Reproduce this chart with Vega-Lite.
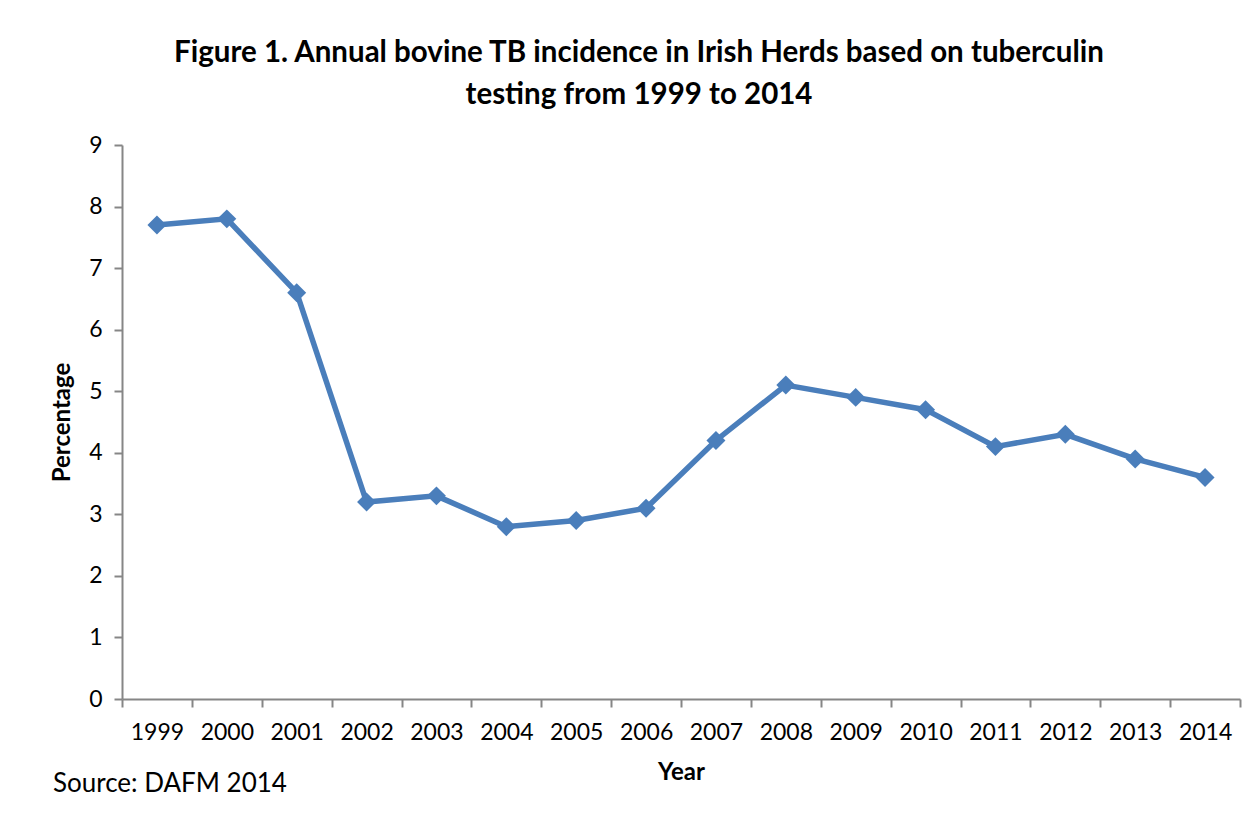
{
  "$schema": "https://vega.github.io/schema/vega-lite/v6.json",
  "width": 1118,
  "height": 554,
  "autosize": {"type": "none"},
  "padding": {"left": 122, "top": 145, "right": 16, "bottom": 115},
  "background": "white",
  "config": {
    "view": {"stroke": null},
    "font": "Lato"
  },
  "title": {
    "text": ["Figure 1. Annual bovine TB incidence in Irish Herds based on tuberculin", "testing from 1999 to 2014"],
    "font": "Lato",
    "fontSize": 29.5,
    "fontWeight": "bold",
    "color": "#000000",
    "lineHeight": 42,
    "anchor": "middle",
    "frame": "group",
    "dx": -42,
    "offset": 24
  },
  "data": {
    "values": [
      {"year": "1999", "pct": 7.7},
      {"year": "2000", "pct": 7.8},
      {"year": "2001", "pct": 6.6},
      {"year": "2002", "pct": 3.2},
      {"year": "2003", "pct": 3.3},
      {"year": "2004", "pct": 2.8},
      {"year": "2005", "pct": 2.9},
      {"year": "2006", "pct": 3.1},
      {"year": "2007", "pct": 4.2},
      {"year": "2008", "pct": 5.1},
      {"year": "2009", "pct": 4.9},
      {"year": "2010", "pct": 4.7},
      {"year": "2011", "pct": 4.1},
      {"year": "2012", "pct": 4.3},
      {"year": "2013", "pct": 3.9},
      {"year": "2014", "pct": 3.6}
    ]
  },
  "encoding": {
    "x": {
      "field": "year",
      "type": "ordinal",
      "scale": {"type": "band", "paddingInner": 0, "paddingOuter": 0},
      "axis": {
        "title": "Year",
        "titleFont": "Lato",
        "titleFontSize": 24,
        "titleFontWeight": "bold",
        "titleColor": "#000000",
        "titlePadding": 16,
        "labelFont": "Lato",
        "labelFontSize": 23,
        "labelColor": "#000000",
        "labelAngle": 0,
        "labelPadding": 14,
        "tickBand": "extent",
        "tickSize": 8,
        "tickColor": "#868686",
        "tickWidth": 2,
        "domainColor": "#868686",
        "domainWidth": 2,
        "grid": false
      }
    },
    "y": {
      "field": "pct",
      "type": "quantitative",
      "scale": {"domain": [0, 9], "nice": false},
      "axis": {
        "title": "Percentage",
        "titleFont": "Lato",
        "titleFontSize": 24,
        "titleFontWeight": "bold",
        "titleColor": "#000000",
        "titlePadding": 14,
        "labelFont": "Lato",
        "labelFontSize": 23,
        "labelColor": "#000000",
        "labelPadding": 12,
        "values": [0, 1, 2, 3, 4, 5, 6, 7, 8, 9],
        "tickSize": 8,
        "tickColor": "#868686",
        "tickWidth": 2,
        "domainColor": "#868686",
        "domainWidth": 2,
        "grid": false
      }
    }
  },
  "layer": [
    {
      "mark": {"type": "line", "color": "#4A7EBB", "strokeWidth": 5.5}
    },
    {
      "mark": {"type": "point", "shape": "diamond", "filled": true, "color": "#4A7EBB", "opacity": 1, "size": 360}
    },
    {
      "data": {"values": [{"label": "Source: DAFM 2014", "year": "1999", "pct": 0}]},
      "mark": {"type": "text", "align": "left", "baseline": "alphabetic", "dx": -104, "dy": 93, "font": "Lato", "fontSize": 26, "color": "#000000", "clip": false},
      "encoding": {
        "text": {"field": "label"}
      }
    }
  ]
}
